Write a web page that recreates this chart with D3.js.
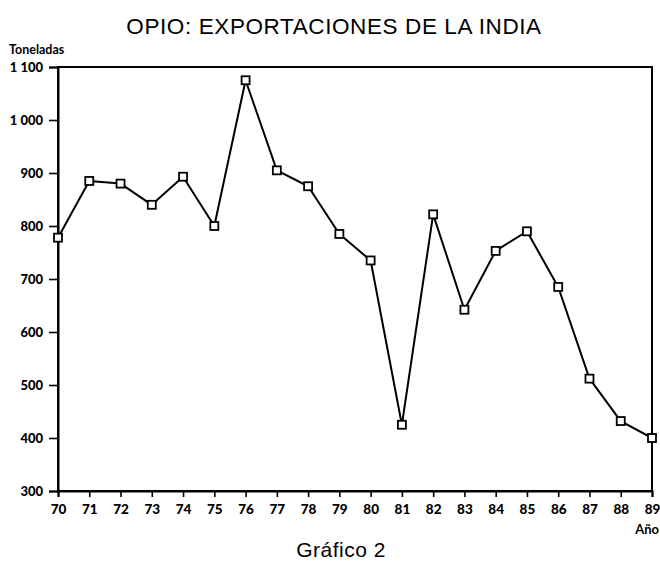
<!DOCTYPE html>
<html>
<head>
<meta charset="utf-8">
<script src="https://cdn.jsdelivr.net/npm/d3@7"></script>
<style>
  html, body { margin: 0; padding: 0; background: #fff; }
  svg { display: block; }
</style>
</head>
<body>
<svg id="chart" width="660" height="561"></svg>
<script>
// Opium exports from India, tonnes per year (1970–1989)
const years = ["70","71","72","73","74","75","76","77","78","79",
               "80","81","82","83","84","85","86","87","88","89"];
const tonnes = [778, 885, 880, 840, 893, 800, 1075, 905, 875, 785,
                735, 425, 822, 642, 753, 790, 685, 512, 432, 400];
const yTicks = [300, 400, 500, 600, 700, 800, 900, 1000, 1100];
const yTickLabels = ["300", "400", "500", "600", "700", "800", "900", "1 000", "1 100"];

const svg = d3.select("#chart");
const plot = { left: 58, right: 652, top: 67, bottom: 491 };

const x = d3.scalePoint().domain(years).range([plot.left, plot.right]);
const y = d3.scaleLinear().domain([300, 1100]).range([plot.bottom, plot.top]);

const tickFont = "Lato, 'Noto Sans', sans-serif";
const textFont = "'Liberation Sans', Arial, sans-serif";

// Title
svg.append("text")
  .attr("x", 334).attr("y", 34)
  .attr("text-anchor", "middle")
  .attr("font-family", textFont)
  .attr("font-size", 22.5)
  .attr("letter-spacing", 0.6)
  .text("OPIO: EXPORTACIONES DE LA INDIA");

// Frame around the plot area
svg.append("rect")
  .attr("x", plot.left).attr("y", plot.top)
  .attr("width", plot.right - plot.left)
  .attr("height", plot.bottom - plot.top)
  .attr("fill", "none").attr("stroke", "#000").attr("stroke-width", 2);

// Y axis
const yAxis = svg.append("g")
  .attr("transform", `translate(${plot.left},0)`)
  .call(d3.axisLeft(y).tickValues(yTicks)
    .tickFormat((d, i) => yTickLabels[i])
    .tickSize(9).tickPadding(6));
yAxis.select(".domain").attr("stroke-width", 2);
yAxis.selectAll(".tick line").attr("stroke-width", 1.6);
yAxis.selectAll(".tick text")
  .attr("font-family", tickFont).attr("font-weight", 900)
  .attr("font-size", 13).attr("fill", "#000");

// X axis
const xAxis = svg.append("g")
  .attr("transform", `translate(0,${plot.bottom})`)
  .call(d3.axisBottom(x).tickSize(6).tickPadding(7));
xAxis.select(".domain").attr("stroke-width", 2);
xAxis.selectAll(".tick line").attr("stroke-width", 1.6);
xAxis.selectAll(".tick text")
  .attr("font-family", tickFont).attr("font-weight", 900)
  .attr("font-size", 13.5).attr("fill", "#000");

// Axis titles
svg.append("text")
  .attr("x", 9).attr("y", 54)
  .attr("font-family", tickFont).attr("font-weight", 700)
  .attr("font-size", 12.5)
  .text("Toneladas");
svg.append("text")
  .attr("x", 659).attr("y", 534)
  .attr("text-anchor", "end")
  .attr("font-family", tickFont).attr("font-weight", 700)
  .attr("font-size", 13)
  .text("Año");

// Series line
const data = years.map((yr, i) => ({ yr, v: tonnes[i] }));
svg.append("path")
  .datum(data)
  .attr("fill", "none").attr("stroke", "#000").attr("stroke-width", 2)
  .attr("stroke-linejoin", "round")
  .attr("d", d3.line().x(d => x(d.yr)).y(d => y(d.v)));

// Square markers
const s = 8;
svg.append("g").selectAll("rect")
  .data(data).join("rect")
  .attr("x", d => x(d.yr) - s / 2).attr("y", d => y(d.v) - s / 2)
  .attr("width", s).attr("height", s)
  .attr("fill", "#fff").attr("stroke", "#000").attr("stroke-width", 1.8);

// Caption
svg.append("text")
  .attr("x", 341).attr("y", 557)
  .attr("text-anchor", "middle")
  .attr("font-family", textFont)
  .attr("font-size", 21)
  .attr("letter-spacing", 0.5)
  .text("Gráfico 2");
</script>
</body>
</html>
